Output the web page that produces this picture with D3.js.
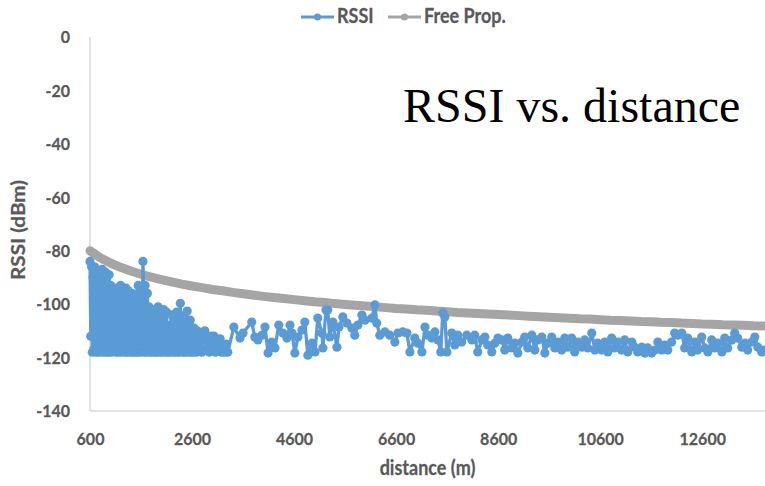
<!DOCTYPE html>
<html>
<head>
<meta charset="utf-8">
<script src="https://cdn.jsdelivr.net/npm/d3@7"></script>
<style>
  html, body { margin: 0; padding: 0; background: #fff; }
  svg { display: block; }
  .lbl { font-family: Lato, "Open Sans", sans-serif; font-weight: bold; fill: #595959; stroke: #595959; stroke-width: 0.25px; }
</style>
</head>
<body>
<svg id="chart" width="765" height="486"></svg>
<script>
// Axis ticks
const xTicks = [600, 2600, 4600, 6600, 8600, 10600, 12600];
const yTicks = [0, -20, -40, -60, -80, -100, -120, -140];

// Series names
const seriesNames = ["RSSI", "Free Prop."];

// Measured RSSI as [distance (m), value (dBm)]
const rssiPoints = [
  [600, -84], [615, -112], [630, -86], [645, -118], [660, -90], [675, -117], [690, -86], [705, -104], [720, -118], [735, -87],
  [750, -115], [765, -92], [780, -118], [795, -88], [810, -108], [825, -117], [840, -87], [855, -118], [870, -96], [885, -113],
  [900, -88], [915, -118], [930, -90], [945, -110], [960, -118], [975, -89], [990, -116],
  [1005, -93], [1020, -118], [1035, -100], [1050, -94], [1065, -117], [1080, -95], [1095, -112], [1110, -118], [1125, -94], [1140, -106],
  [1155, -118], [1170, -95], [1185, -116], [1200, -93], [1215, -118], [1230, -101], [1245, -94], [1260, -117], [1275, -96], [1290, -118],
  [1305, -94], [1320, -110], [1335, -118], [1350, -95],
  [1365, -117], [1380, -97], [1395, -118], [1410, -104], [1425, -96], [1440, -118], [1455, -98], [1470, -115], [1485, -118], [1500, -97],
  [1515, -108], [1530, -118], [1545, -93], [1560, -117], [1575, -95], [1590, -118], [1605, -100], [1620, -114], [1638, -84],
  [1650, -95], [1665, -118], [1680, -93], [1695, -112], [1710, -118], [1725, -96], [1740, -117],
  [1755, -101], [1770, -118], [1785, -104], [1800, -110], [1815, -118], [1830, -102], [1845, -116], [1860, -108], [1875, -118], [1890, -103],
  [1905, -114], [1920, -118], [1935, -101], [1950, -117], [1965, -106], [1980, -118], [1995, -104], [2010, -112], [2025, -118], [2040, -102],
  [2055, -117], [2070, -108], [2085, -118], [2100, -103],
  [2115, -115], [2130, -118], [2145, -108], [2160, -116], [2175, -118], [2190, -104], [2205, -117], [2220, -110], [2235, -118], [2250, -106],
  [2265, -116], [2280, -118], [2295, -103], [2310, -117], [2325, -110], [2340, -118], [2355, -104], [2370, -99.7], [2385, -117], [2400, -107],
  [2415, -118], [2430, -105], [2445, -116], [2460, -118], [2475, -108], [2490, -115], [2505, -102.6], [2520, -118], [2535, -110], [2550, -117],
  [2565, -106], [2580, -118], [2595, -112], [2610, -116], [2625, -118], [2640, -109], [2655, -117], [2670, -113], [2685, -118], [2700, -110],
  [2730, -117], [2760, -113], [2790, -118], [2820, -111], [2850, -110], [2880, -117], [2910, -114], [2940, -118], [2970, -112], [3000, -117],
  [3030, -112], [3060, -118], [3090, -115], [3120, -117], [3150, -113], [3180, -118], [3210, -116], [3240, -118], [3270, -115], [3300, -118],
  [3420, -108.6], [3540, -112.7], [3600, -110.8], [3770, -106.7], [3830, -112.3], [3890, -113.4], [3970, -111.6], [4030, -108.6], [4090, -118.3], [4165, -114.2],
  [4225, -116.4], [4300, -107.8], [4380, -110.8], [4460, -112.7], [4520, -107.8], [4560, -110.8], [4615, -118.3], [4675, -112.3], [4755, -109.7], [4810, -106.7],
  [4870, -119.1], [4950, -114.6], [5010, -117.9], [5065, -105.2], [5145, -110.8], [5165, -116.4], [5225, -102.2], [5260, -102.2], [5300, -112.3], [5360, -106.7],
  [5440, -116.1], [5480, -108.6], [5555, -104.8], [5635, -107.1], [5735, -109.0], [5790, -111.6], [5850, -107.8], [5930, -104.1], [5990, -106.0], [6125, -105.2],
  [6185, -100.3], [6220, -107.1], [6280, -111.6], [6380, -110.4], [6475, -111.6], [6575, -114.2], [6635, -110.8], [6730, -110.4], [6810, -110.8], [6870, -117.9],
  [6965, -112.7], [7025, -114.6], [7105, -117.9], [7165, -108.6], [7220, -111.6], [7300, -112.7], [7360, -110.4], [7420, -113.4], [7475, -117.9], [7515, -103.3],
  [7555, -104.8], [7595, -117.9], [7690, -110.8], [7750, -115.3], [7810, -111.6], [7885, -114.2], [7985, -111.6], [8085, -113.4], [8140, -111.6], [8200, -117.9],
  [8280, -113.4], [8340, -112.3], [8395, -115.3], [8475, -117.9], [8535, -114.6], [8595, -112.7], [8670, -113.4], [8730, -117.2], [8790, -112.7], [8865, -116.4],
  [8925, -114.6], [8985, -118.3], [9065, -114.2], [9120, -112.3], [9180, -116.4], [9260, -111.6], [9320, -117.2], [9375, -113.4], [9455, -112.3], [9515, -118.3],
  [9570, -114.6], [9650, -112.3], [9710, -116.4], [9770, -114.2], [9845, -117.2], [9905, -112.7], [9965, -116.1], [10040, -112.7], [10100, -117.9], [10160, -114.2],
  [10240, -116.1], [10295, -113.4], [10355, -116.4], [10435, -110.8], [10495, -117.2], [10550, -114.6], [10630, -117.2], [10690, -114.2], [10750, -117.9], [10825, -112.7],
  [10885, -116.4], [10945, -114.2], [11020, -117.2], [11080, -113.4], [11140, -117.9], [11220, -114.2], [11275, -116.1], [11335, -117.9], [11415, -116.1], [11475, -118.3],
  [11530, -116.4], [11610, -118.3], [11670, -117.2], [11730, -114.2], [11805, -117.2], [11865, -115.3], [11925, -117.2], [12000, -114.2], [12060, -110.8], [12120, -111.6],
  [12200, -110.8], [12255, -116.4], [12315, -112.7], [12395, -117.9], [12455, -114.2], [12510, -117.2], [12590, -112.3], [12650, -116.4], [12710, -117.9], [12785, -113.4],
  [12845, -116.4], [12905, -114.6], [12985, -117.9], [13040, -112.7], [13100, -116.4], [13180, -113.4], [13235, -110.8], [13295, -112.7], [13375, -116.1], [13435, -114.6],
  [13490, -117.2], [13570, -114.2], [13630, -112.3], [13690, -116.1], [13765, -117.9], [13825, -117.2]
];

// Free-space propagation reference: distance (m)
const freeDistance = [
  600, 800, 1000, 1200, 1400, 1600, 1800, 2000, 2200, 2400, 2600, 2800, 3000, 3200, 3400, 3600, 3800, 4000, 4200, 4400,
  4600, 4800, 5000, 5200, 5400, 5600, 5800, 6000, 6200, 6400, 6600, 6800, 7000, 7200, 7400, 7600, 7800, 8000, 8200, 8400,
  8600, 8800, 9000, 9200, 9400, 9600, 9800, 10000, 10200, 10400, 10600, 10800, 11000, 11200, 11400, 11600, 11800, 12000, 12200, 12400,
  12600, 12800, 13000, 13200, 13400, 13600, 13800
];

// Free-space propagation reference: value (dBm)
const freeValue = [
  -80.0, -82.6, -84.6, -86.2, -87.6, -88.8, -89.9, -90.8, -91.7, -92.5, -93.2, -93.8, -94.5, -95.0, -95.6, -96.1, -96.6, -97.1, -97.5, -97.9,
  -98.3, -98.7, -99.1, -99.4, -99.8, -100.1, -100.4, -100.7, -101.0, -101.3, -101.6, -101.8, -102.1, -102.3, -102.6, -102.8, -103.1, -103.3, -103.5, -103.7,
  -103.9, -104.1, -104.3, -104.5, -104.7, -104.9, -105.1, -105.3, -105.5, -105.6, -105.8, -106.0, -106.1, -106.3, -106.5, -106.6, -106.8, -106.9, -107.1, -107.2,
  -107.4, -107.5, -107.7, -107.8, -107.9, -108.1, -108.2
];

const COLORS = { rssi: "#5B9BD5", free: "#A5A5A5", axis: "#D9D9D9", text: "#595959" };

const svg = d3.select("#chart");
const plot = { left: 90, right: 765, top: 37, bottom: 411 };

const x = d3.scaleLinear().domain([600, 13830]).range([plot.left, plot.right]);
const y = d3.scaleLinear().domain([-140, 0]).range([plot.bottom, plot.top]);

const rssi = rssiPoints.map(([d, v]) => ({ d, v }));
const free = freeDistance.map((d, i) => ({ d, v: freeValue[i] }));

// Axis lines
svg.append("line").attr("x1", plot.left).attr("x2", plot.left)
  .attr("y1", plot.top).attr("y2", plot.bottom)
  .attr("stroke", COLORS.axis).attr("stroke-width", 1.5);
svg.append("line").attr("x1", plot.left).attr("x2", plot.right)
  .attr("y1", plot.bottom).attr("y2", plot.bottom)
  .attr("stroke", COLORS.axis).attr("stroke-width", 1.5);

// Tick labels via d3 axes (no tick marks, no domain path)
const yAxis = svg.append("g").attr("transform", `translate(${plot.left},0)`)
  .call(d3.axisLeft(y).tickValues(yTicks).tickSize(0).tickPadding(20).tickFormat(d3.format("d")));
const xAxis = svg.append("g").attr("transform", `translate(0,${plot.bottom})`)
  .call(d3.axisBottom(x).tickValues(xTicks).tickSize(0).tickPadding(19).tickFormat(d3.format("d")));
[yAxis, xAxis].forEach(g => {
  g.select(".domain").remove();
  g.selectAll("text").attr("class", "lbl").style("font-size", "16px")
    .attr("font-family", null).attr("fill", null).attr("transform", "scale(1,1.12)");
});
yAxis.selectAll("text").text(d => d === 0 ? "0" : "-" + Math.abs(d));

// Axis titles
svg.append("text").attr("class", "lbl")
  .attr("transform", `translate(${(plot.left + plot.right) / 2},475) scale(1,1.12)`)
  .attr("text-anchor", "middle").style("font-size", "18px").text("distance (m)");
svg.append("text").attr("class", "lbl")
  .attr("transform", `translate(25,230) rotate(-90) scale(1.15,1)`)
  .attr("text-anchor", "middle").style("font-size", "18px").text("RSSI (dBm)");

// Free-space reference band
const line = d3.line().x(p => x(p.d)).y(p => y(p.v));
svg.append("path").datum(free).attr("d", line)
  .attr("fill", "none").attr("stroke", COLORS.free).attr("stroke-width", 9)
  .attr("stroke-linecap", "round").attr("stroke-linejoin", "round");

// RSSI line with markers
svg.append("path").datum(rssi).attr("d", line)
  .attr("fill", "none").attr("stroke", COLORS.rssi).attr("stroke-width", 3.3)
  .attr("stroke-linejoin", "round");
svg.append("g").selectAll("circle").data(rssi).join("circle")
  .attr("cx", p => x(p.d)).attr("cy", p => y(p.v)).attr("r", 4.6)
  .attr("fill", COLORS.rssi);

// Legend
const legend = svg.append("g");
const legendItems = [
  { name: seriesNames[0], color: COLORS.rssi, x0: 301 },
  { name: seriesNames[1], color: COLORS.free, x0: 388 }
];
legendItems.forEach(it => {
  legend.append("line").attr("x1", it.x0).attr("x2", it.x0 + 33).attr("y1", 17).attr("y2", 17)
    .attr("stroke", it.color).attr("stroke-width", 3);
  legend.append("circle").attr("cx", it.x0 + 16.5).attr("cy", 17).attr("r", 3.5).attr("fill", it.color);
  legend.append("text").attr("class", "lbl")
    .attr("transform", `translate(${it.x0 + 36},23) scale(1,1.12)`)
    .style("font-size", "18px").text(it.name);
});

// In-plot title
svg.append("text")
  .attr("x", 403).attr("y", 122)
  .attr("font-family", "'Liberation Serif', 'Times New Roman', serif")
  .attr("font-size", 48).attr("fill", "#000")
  .text("RSSI vs. distance");
</script>
</body>
</html>
